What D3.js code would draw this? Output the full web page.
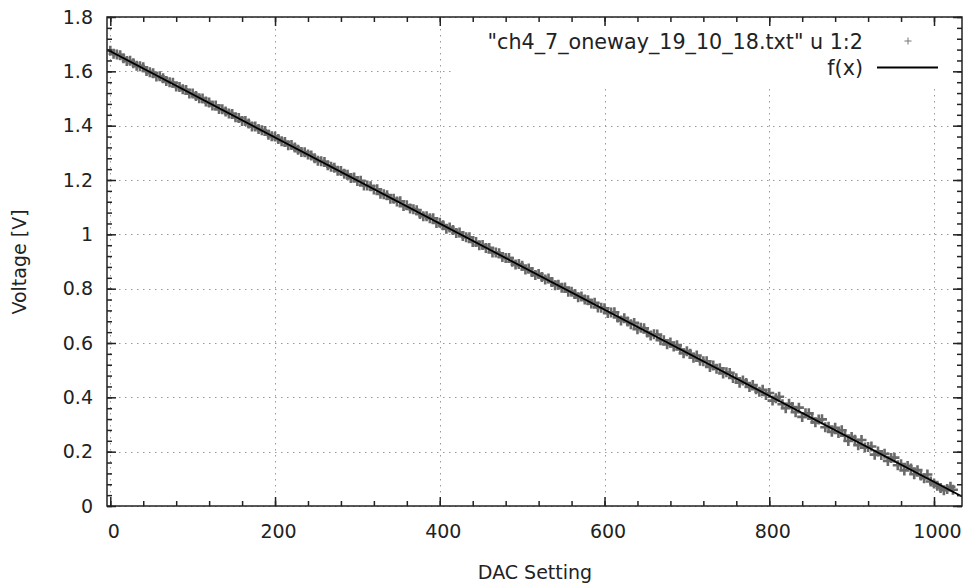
<!DOCTYPE html>
<html>
<head>
<meta charset="utf-8">
<script src="https://cdn.jsdelivr.net/npm/d3@7"></script>
<style>
	body { margin: 0; background: #fff; }
	text { font-family: "DejaVu Sans", sans-serif; fill: #222; }
</style>
</head>
<body>
<div id="chart"></div>
<script>
var dac = [0, 4, 8, 12, 16, 20, 24, 28, 32, 36, 40, 44, 48, 52, 56, 60, 64, 68, 72, 76,
	80, 84, 88, 92, 96, 100, 104, 108, 112, 116, 120, 124, 128, 132, 136, 140, 144, 148, 152, 156,
	160, 164, 168, 172, 176, 180, 184, 188, 192, 196, 200, 204, 208, 212, 216, 220, 224, 228, 232, 236,
	240, 244, 248, 252, 256, 260, 264, 268, 272, 276, 280, 284, 288, 292, 296, 300, 304, 308, 312, 316,
	320, 324, 328, 332, 336, 340, 344, 348, 352, 356, 360, 364, 368, 372, 376, 380, 384, 388, 392, 396,
	400, 404, 408, 412, 416, 420, 424, 428, 432, 436, 440, 444, 448, 452, 456, 460, 464, 468, 472, 476,
	480, 484, 488, 492, 496, 500, 504, 508, 512, 516, 520, 524, 528, 532, 536, 540, 544, 548, 552, 556,
	560, 564, 568, 572, 576, 580, 584, 588, 592, 596, 600, 604, 608, 612, 616, 620, 624, 628, 632, 636,
	640, 644, 648, 652, 656, 660, 664, 668, 672, 676, 680, 684, 688, 692, 696, 700, 704, 708, 712, 716,
	720, 724, 728, 732, 736, 740, 744, 748, 752, 756, 760, 764, 768, 772, 776, 780, 784, 788, 792, 796,
	800, 804, 808, 812, 816, 820, 824, 828, 832, 836, 840, 844, 848, 852, 856, 860, 864, 868, 872, 876,
	880, 884, 888, 892, 896, 900, 904, 908, 912, 916, 920, 924, 928, 932, 936, 940, 944, 948, 952, 956,
	960, 964, 968, 972, 976, 980, 984, 988, 992, 996, 1000, 1004, 1008, 1012, 1016, 1020, 1023];
var voltage = [1.676, 1.665, 1.662, 1.659, 1.648, 1.638, 1.639, 1.630, 1.621, 1.619, 1.615, 1.601, 1.597, 1.593, 1.581, 1.582, 1.575, 1.564, 1.560, 1.558,
	1.544, 1.542, 1.534, 1.531, 1.518, 1.518, 1.509, 1.501, 1.500, 1.489, 1.485, 1.474, 1.474, 1.461, 1.460, 1.452, 1.445, 1.443, 1.431, 1.428,
	1.417, 1.417, 1.408, 1.397, 1.397, 1.388, 1.383, 1.380, 1.367, 1.361, 1.360, 1.351, 1.343, 1.340, 1.328, 1.329, 1.320, 1.311, 1.303, 1.302,
	1.294, 1.290, 1.280, 1.271, 1.269, 1.266, 1.254, 1.249, 1.245, 1.234, 1.233, 1.223, 1.219, 1.207, 1.209, 1.196, 1.197, 1.180, 1.180, 1.177,
	1.165, 1.166, 1.149, 1.148, 1.144, 1.131, 1.131, 1.121, 1.122, 1.104, 1.107, 1.095, 1.092, 1.089, 1.075, 1.067, 1.067, 1.059, 1.059, 1.042,
	1.043, 1.033, 1.021, 1.025, 1.016, 1.005, 1.007, 0.994, 0.989, 0.989, 0.972, 0.972, 0.960, 0.961, 0.950, 0.950, 0.933, 0.933, 0.930, 0.917,
	0.913, 0.913, 0.899, 0.889, 0.891, 0.884, 0.871, 0.874, 0.861, 0.850, 0.854, 0.843, 0.834, 0.837, 0.825, 0.813, 0.814, 0.803, 0.804, 0.789,
	0.789, 0.780, 0.768, 0.771, 0.760, 0.757, 0.745, 0.748, 0.731, 0.730, 0.728, 0.710, 0.712, 0.713, 0.694, 0.683, 0.691, 0.679, 0.669, 0.674,
	0.651, 0.656, 0.654, 0.639, 0.628, 0.632, 0.631, 0.610, 0.610, 0.595, 0.602, 0.587, 0.592, 0.576, 0.562, 0.570, 0.560, 0.546, 0.554, 0.535,
	0.533, 0.533, 0.512, 0.517, 0.505, 0.507, 0.488, 0.492, 0.490, 0.471, 0.470, 0.454, 0.462, 0.453, 0.438, 0.445, 0.430, 0.421, 0.428, 0.409,
	0.416, 0.388, 0.397, 0.402, 0.375, 0.360, 0.376, 0.364, 0.345, 0.362, 0.328, 0.341, 0.341, 0.321, 0.308, 0.318, 0.319, 0.290, 0.292, 0.273,
	0.288, 0.269, 0.279, 0.259, 0.239, 0.254, 0.244, 0.224, 0.243, 0.215, 0.217, 0.219, 0.189, 0.201, 0.188, 0.192, 0.166, 0.177, 0.178, 0.150,
	0.154, 0.131, 0.147, 0.138, 0.117, 0.132, 0.112, 0.102, 0.116, 0.090, 0.083, 0.075, 0.066, 0.058, 0.063, 0.071, 0.060];

// fitted line f(x), end points across the x range
var fitX = [-4, 1034];
var fitY = [1.680, 0.035];

var xTicks = [0, 200, 400, 600, 800, 1000];
var yTicks = [0, 0.2, 0.4, 0.6, 0.8, 1, 1.2, 1.4, 1.6, 1.8];
var yTickLabels = ["0", "0.2", "0.4", "0.6", "0.8", "1", "1.2", "1.4", "1.6", "1.8"];
var legendLabels = ['"ch4_7_oneway_19_10_18.txt" u 1:2', "f(x)"];

var W = 963, H = 583;
var pLeft = 107, pRight = 962, pTop = 17, pBottom = 506;

var svg = d3.select("#chart").append("svg")
	.attr("width", W)
	.attr("height", H);

var x = d3.scaleLinear().domain([-4, 1034]).range([pLeft, pRight]);
var y = d3.scaleLinear().domain([0, 1.8]).range([pBottom, pTop]);

var xMinor = d3.range(0, 1034, 40);
var yMinor = d3.range(0, 91, 2).map(function(d){ return d / 50; });

// grid
var grid = svg.append("g").attr("stroke", "#9a9a9a").attr("stroke-width", 1).attr("stroke-dasharray", "1.5,4.5");
grid.selectAll(".gx").data(xTicks).enter().append("line")
	.attr("x1", function(d){ return Math.round(x(d)) + 0.5; })
	.attr("x2", function(d){ return Math.round(x(d)) + 0.5; })
	.attr("y1", pTop).attr("y2", pBottom);
grid.selectAll(".gy").data(yTicks).enter().append("line")
	.attr("y1", function(d){ return Math.round(y(d)) + 0.5; })
	.attr("y2", function(d){ return Math.round(y(d)) + 0.5; })
	.attr("x1", pLeft).attr("x2", pRight);

svg.append("clipPath").attr("id", "clip")
	.append("rect").attr("x", pLeft).attr("y", pTop).attr("width", pRight - pLeft).attr("height", pBottom - pTop);

// data points as + symbols
var plus = "M-5,0H5M0,-5V5";
svg.append("g").attr("clip-path", "url(#clip)")
	.selectAll("path").data(dac).enter().append("path")
	.attr("d", plus)
	.attr("fill", "none")
	.attr("stroke", "#6a6a6a")
	.attr("stroke-width", 2.6)
	.attr("transform", function(d, i){ return "translate(" + x(d) + "," + y(voltage[i]) + ")"; });

// f(x)
svg.append("g").attr("clip-path", "url(#clip)").append("path")
	.datum(d3.zip(fitX, fitY))
	.attr("d", d3.line().x(function(d){ return x(d[0]); }).y(function(d){ return y(d[1]); }))
	.attr("fill", "none")
	.attr("stroke", "#000")
	.attr("stroke-width", 1.8);

// key (opaque)
svg.append("rect").attr("x", 453).attr("y", 27).attr("width", 497).attr("height", 58).attr("fill", "#fff");
svg.append("text").attr("x", 863).attr("y", 49).attr("text-anchor", "end").attr("font-size", 20.7).text(legendLabels[0]);
svg.append("path").attr("d", "M-3.5,0H3.5M0,-3.5V3.5").attr("fill", "none").attr("stroke", "#777").attr("stroke-width", 1)
	.attr("transform", "translate(908,41)");
svg.append("text").attr("x", 863).attr("y", 75).attr("text-anchor", "end").attr("font-size", 20.7).text(legendLabels[1]);
svg.append("line").attr("x1", 877).attr("x2", 938).attr("y1", 67.5).attr("y2", 67.5)
	.attr("stroke", "#000").attr("stroke-width", 1.8);

// axes (ticks inward, mirrored on top and right)
function styleAxis(g) {
	g.select(".domain").remove();
	g.selectAll("line").attr("stroke", "#222").attr("stroke-width", 1.5);
	g.selectAll("text").attr("font-size", 19).attr("fill", "#222").attr("font-family", "DejaVu Sans, sans-serif");
}

svg.append("g").attr("transform", "translate(0," + pBottom + ")")
	.call(d3.axisBottom(x).tickValues(xMinor).tickSize(-5).tickFormat("")).call(styleAxis);
svg.append("g").attr("transform", "translate(0," + pBottom + ")")
	.call(d3.axisBottom(x).tickValues(xTicks).tickSize(-9).tickPadding(19).tickFormat(d3.format("d")))
	.call(styleAxis)
	.selectAll("text").attr("dx", 3);
svg.append("g").attr("transform", "translate(0," + pTop + ")")
	.call(d3.axisTop(x).tickValues(xMinor).tickSize(-5).tickFormat("")).call(styleAxis);
svg.append("g").attr("transform", "translate(0," + pTop + ")")
	.call(d3.axisTop(x).tickValues(xTicks).tickSize(-9).tickFormat("")).call(styleAxis);

svg.append("g").attr("transform", "translate(" + pLeft + ",0)")
	.call(d3.axisLeft(y).tickValues(yMinor).tickSize(-5).tickFormat("")).call(styleAxis);
svg.append("g").attr("transform", "translate(" + pLeft + ",0)")
	.call(d3.axisLeft(y).tickValues(yTicks).tickSize(-9).tickPadding(14)
		.tickFormat(function(d, i){ return yTickLabels[i]; })).call(styleAxis);
svg.append("g").attr("transform", "translate(" + pRight + ",0)")
	.call(d3.axisRight(y).tickValues(yMinor).tickSize(-5).tickFormat("")).call(styleAxis);
svg.append("g").attr("transform", "translate(" + pRight + ",0)")
	.call(d3.axisRight(y).tickValues(yTicks).tickSize(-9).tickFormat("")).call(styleAxis);

// border
svg.append("rect").attr("x", pLeft).attr("y", pTop).attr("width", pRight - pLeft).attr("height", pBottom - pTop)
	.attr("fill", "none").attr("stroke", "#222").attr("stroke-width", 1.5);

// axis titles
svg.append("text").attr("x", 535).attr("y", 579).attr("text-anchor", "middle").attr("font-size", 19).text("DAC Setting");
svg.append("text").attr("transform", "translate(26,262) rotate(-90)").attr("text-anchor", "middle")
	.attr("font-size", 19).text("Voltage [V]");
</script>
</body>
</html>
